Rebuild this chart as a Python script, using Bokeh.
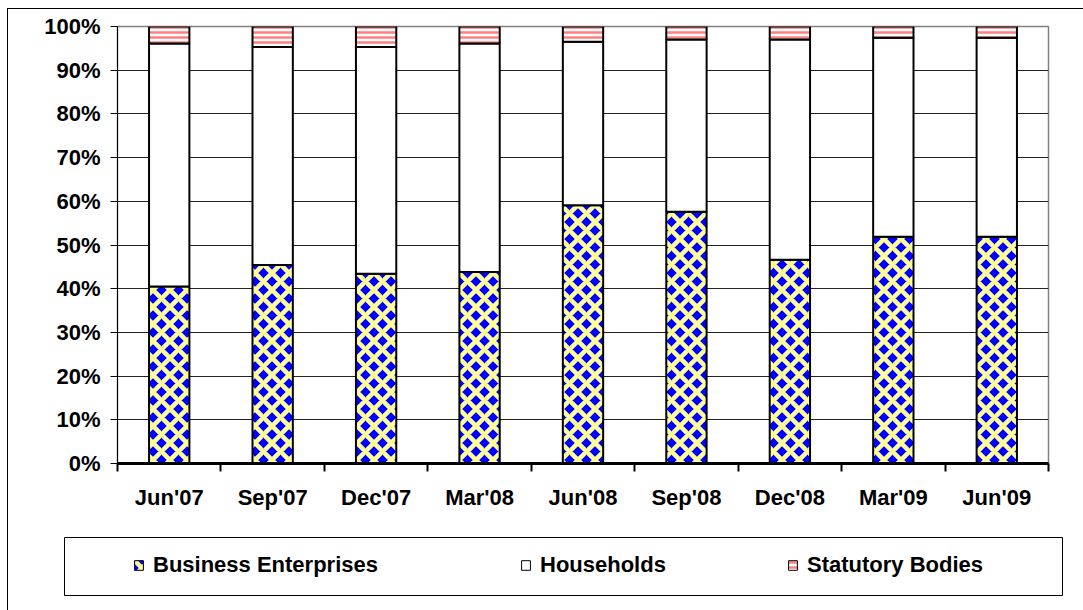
from bokeh.plotting import figure
from bokeh.models import (Range1d, FixedTicker, PrintfTickFormatter, Legend,
                          LegendItem, ColumnDataSource)
from bokeh.layouts import column
from bokeh.embed import file_html
from bokeh.resources import INLINE

# ---------------- data ----------------
categories = ["Jun'07", "Sep'07", "Dec'07", "Mar'08", "Jun'08",
              "Sep'08", "Dec'08", "Mar'09", "Jun'09"]
business = [40.5, 45.4, 43.4, 43.8, 59.1, 57.6, 46.6, 51.9, 51.9]
households = [55.6, 49.9, 51.9, 52.3, 37.4, 39.4, 50.4, 45.5, 45.5]
statutory = [3.9, 4.7, 4.7, 3.9, 3.5, 3.0, 3.0, 2.6, 2.6]
series_names = ["Business Enterprises", "Households", "Statutory Bodies"]
y_ticks = list(range(0, 101, 10))

FONT = "Liberation Sans"
FS = "22px"

xs = list(range(len(categories)))
bottom1 = [0.0] * len(categories)
top1 = [b for b in business]
top2 = [b + h for b, h in zip(business, households)]
top3 = [t + s for t, s in zip(top2, statutory)]

styles = [
    # blue diamonds in a pale-yellow lattice
    dict(fill_color="#0000FF", hatch_pattern="diagonal_cross", hatch_color="#FFFF99",
         hatch_scale=17, hatch_weight=4.5),
    dict(fill_color="#FFFFFF"),
    dict(fill_color="#FFFFFF", hatch_pattern="horizontal_line",
         hatch_color="#FF8080", hatch_scale=5, hatch_weight=2.5),
]

# ---------------- main chart ----------------
p = figure(width=1075, height=511, output_backend="svg", toolbar_location=None,
           x_range=Range1d(-0.5, len(categories) - 0.5), y_range=Range1d(0, 100),
           min_border_left=109, min_border_right=35, min_border_top=17,
           min_border_bottom=57)
p.background_fill_color = "white"
p.border_fill_color = "white"
p.outline_line_color = "#808080"
p.outline_line_width = 1.5

segments = [(bottom1, top1), (top1, top2), (top2, top3)]
sources = []
for (bot, top), st in zip(segments, styles):
    src = ColumnDataSource(dict(x=xs, bottom=bot, top=top))
    sources.append(src)
    p.vbar(x="x", bottom="bottom", top="top", width=0.39, source=src,
           line_color="black", line_width=2, **st)

# y axis
p.yaxis.ticker = FixedTicker(ticks=y_ticks)
p.yaxis.formatter = PrintfTickFormatter(format="%d%%")
p.yaxis.major_tick_in = 0
p.yaxis.major_tick_out = 7
p.yaxis.minor_tick_out = 0
p.yaxis.minor_tick_in = 0
p.yaxis.major_label_standoff = 10
p.yaxis.axis_line_color = "black"
p.yaxis.axis_line_width = 1
p.yaxis.major_label_text_font = FONT
p.yaxis.major_label_text_font_style = "bold"
p.yaxis.major_label_text_font_size = FS
p.yaxis.major_label_text_color = "black"

# x axis
p.xaxis.ticker = FixedTicker(ticks=xs, minor_ticks=[x - 0.5 for x in xs] + [xs[-1] + 0.5])
p.xaxis.major_label_overrides = {i: c for i, c in zip(xs, categories)}
p.xaxis.major_tick_in = 0
p.xaxis.major_tick_out = 0
p.xaxis.minor_tick_in = 0
p.xaxis.minor_tick_out = 8
p.xaxis.minor_tick_line_width = 2
p.xaxis.minor_tick_line_color = "black"
p.xaxis.axis_line_width = 3
p.xaxis.axis_line_color = "black"
p.xaxis.major_label_standoff = 13
p.xaxis.major_label_text_font = FONT
p.xaxis.major_label_text_font_style = "bold"
p.xaxis.major_label_text_font_size = FS
p.xaxis.major_label_text_color = "black"

p.xgrid.visible = False
p.ygrid.ticker = FixedTicker(ticks=y_ticks[1:-1])
p.ygrid.grid_line_color = "#222222"
p.ygrid.grid_line_width = 1

# ---------------- legend box ----------------
# ranges chosen so that the proxy bars used for legend swatches fall out of view
lg = figure(width=1075, height=90, output_backend="svg", toolbar_location=None,
            x_range=Range1d(1000, 1001), y_range=Range1d(1000, 1001),
            x_axis_location=None, y_axis_location=None,
            min_border_left=56, min_border_right=21, min_border_top=17,
            min_border_bottom=15)
for fig in (p, lg):
    try:
        fig.frame_align = False
    except Exception:
        pass
lg.outline_line_color = "black"
lg.outline_line_width = 1
lg.grid.visible = False
lg.background_fill_color = "white"
lg.border_fill_color = "white"

glyph_x = [69, 456, 723]
for name, st, gx, src in zip(series_names, styles, glyph_x, sources):
    r = lg.vbar(x="x", bottom="bottom", top="top", width=0.39, source=src,
                line_color="black", line_width=1, **st)
    leg = Legend(items=[LegendItem(label=name, renderers=[r])],
                 location=(gx, 17), padding=0, margin=0, spacing=0,
                 glyph_width=11, glyph_height=12, label_standoff=9,
                 label_height=12,
                 border_line_alpha=0, background_fill_alpha=0,
                 label_text_font=FONT, label_text_font_style="bold",
                 label_text_font_size=FS, label_text_color="black")
    lg.add_layout(leg, "center")

layout = column(p, lg, margin=(8, 0, 0, 7),
                styles={"border-left": "1px solid black",
                        "border-top": "1px solid black"})

open("out.html", "w").write(file_html(layout, INLINE))
